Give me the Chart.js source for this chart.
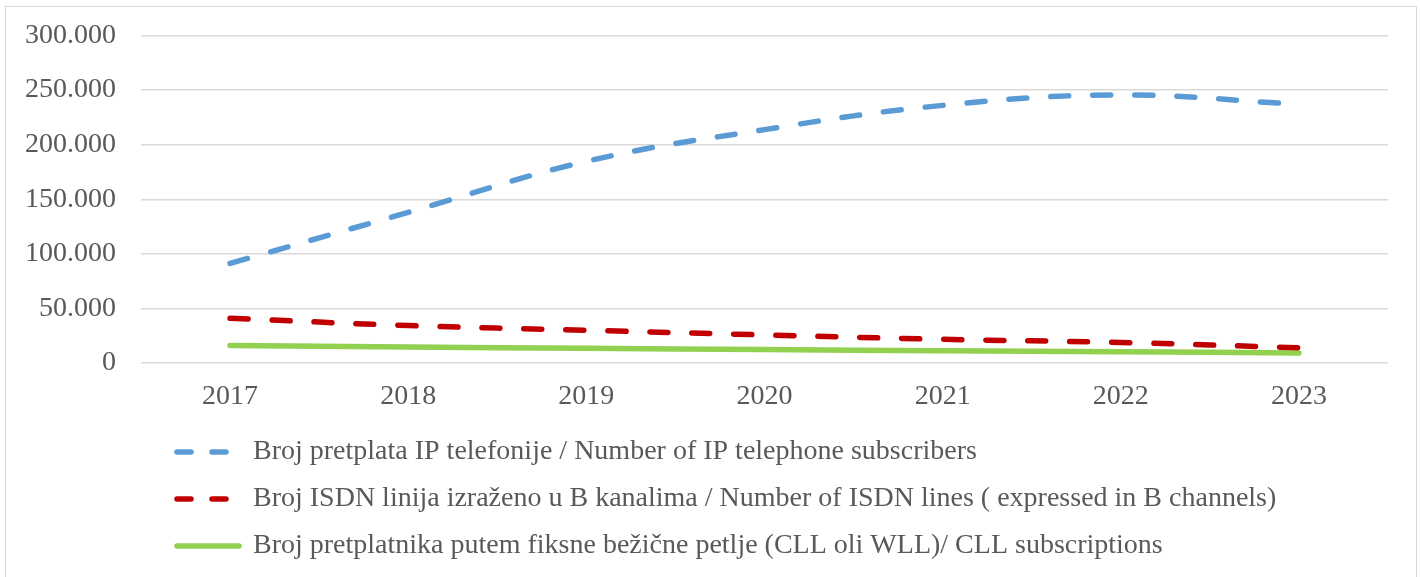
<!DOCTYPE html>
<html>
<head>
<meta charset="utf-8">
<script src="https://cdn.jsdelivr.net/npm/chart.js@4.4.1/dist/chart.umd.min.js"></script>
<style>
  html, body { margin: 0; padding: 0; background: #fff; overflow: hidden; }
  .frame {
    position: absolute; left: 5px; top: 6px; width: 1412px; height: 620px;
    border: 1.5px solid #d9d9d9; box-sizing: border-box;
  }
  .wrap { position: absolute; left: 0; top: 0; width: 1420px; height: 577px; }
</style>
</head>
<body>
<div class="frame"></div>
<div class="wrap"><canvas id="chart"></canvas></div>
<script>
// Podaci
const years = ['2017', '2018', '2019', '2020', '2021', '2022', '2023'];
const ipSubscribers = [91200, 138000, 184700, 213800, 236000, 245500, 237000];
const isdnLines = [41000, 34300, 30000, 25700, 21700, 18800, 14000];
const cllSubscribers = [16000, 14600, 13400, 12300, 11300, 10400, 9200];

const seriesNames = [
  'Broj pretplata IP telefonije / Number of IP telephone subscribers',
  'Broj ISDN linija izraženo u B kanalima / Number of ISDN lines ( expressed in B channels)',
  'Broj pretplatnika putem fiksne bežične petlje (CLL oli WLL)/ CLL subscriptions'
];
const seriesDashed = [true, true, false];

const textColor = '#595959';
const fontFamily = "'Liberation Serif', 'DejaVu Serif', serif";

// pomak legende udesno (kao u originalu)
const legendShift = {
  id: 'legendShift',
  afterLayout(chart) {
    if (chart.legend) {
      chart.legend.left += 158;
      chart.legend.right += 158;
    }
  }
};

const fmt = (v) => v === 0 ? '0' : v.toLocaleString('de-DE');

const lineBase = {
  borderWidth: 5.5,
  pointRadius: 0,
  pointHoverRadius: 0,
  tension: 0.4,
  fill: false,
  borderCapStyle: 'round',
  borderJoinStyle: 'round',
};

new Chart(document.getElementById('chart'), {
  type: 'line',
  data: {
    labels: years,
    datasets: [
      { ...lineBase, label: seriesNames[0], data: ipSubscribers, borderColor: '#5b9bd5', backgroundColor: '#5b9bd5', borderDash: [18, 24] },
      { ...lineBase, label: seriesNames[1], data: isdnLines, borderColor: '#c00000', backgroundColor: '#c00000', borderDash: [18, 24] },
      { ...lineBase, label: seriesNames[2], data: cllSubscribers, borderColor: '#92d050', backgroundColor: '#92d050', tension: 0.2 },
    ]
  },
  options: {
    responsive: true,
    maintainAspectRatio: false,
    animation: false,
    layout: { padding: { left: 0, right: 32, top: 0, bottom: 7 } },
    plugins: {
      tooltip: { enabled: false },
      legend: {
        position: 'bottom',
        align: 'start',
        labels: {
          color: textColor,
          font: { family: fontFamily, size: 28 },
          padding: 19,
          usePointStyle: true,
          pointStyle: 'line',
          pointStyleWidth: 62,
          generateLabels: (chart) => {
            const items = Chart.defaults.plugins.legend.labels.generateLabels(chart);
            items.forEach(it => {
              it.lineDash = seriesDashed[it.datasetIndex] ? [14, 21] : [];
              it.lineCap = 'round';
              it.lineWidth = 5.5;
              it.pointStyle = 'line';
            });
            return items;
          }
        }
      }
    },
    scales: {
      x: {
        offset: true,
        grid: { display: false, drawTicks: false },
        border: { display: false },
        ticks: { color: textColor, font: { family: fontFamily, size: 28 }, padding: 17 },
        afterFit: (scale) => { scale.height = 56; }
      },
      y: {
        min: 0,
        max: 300000,
        grid: { color: '#d9d9d9', lineWidth: 1.5, drawTicks: false },
        border: { display: false },
        ticks: {
          stepSize: 50000,
          color: textColor,
          font: { family: fontFamily, size: 28 },
          padding: 25,
          callback: (v) => fmt(v)
        },
        afterFit: (scale) => { scale.paddingTop = 35.5; scale.paddingBottom = 0; }
      }
    }
  },
  plugins: [legendShift]
});
</script>
</body>
</html>
